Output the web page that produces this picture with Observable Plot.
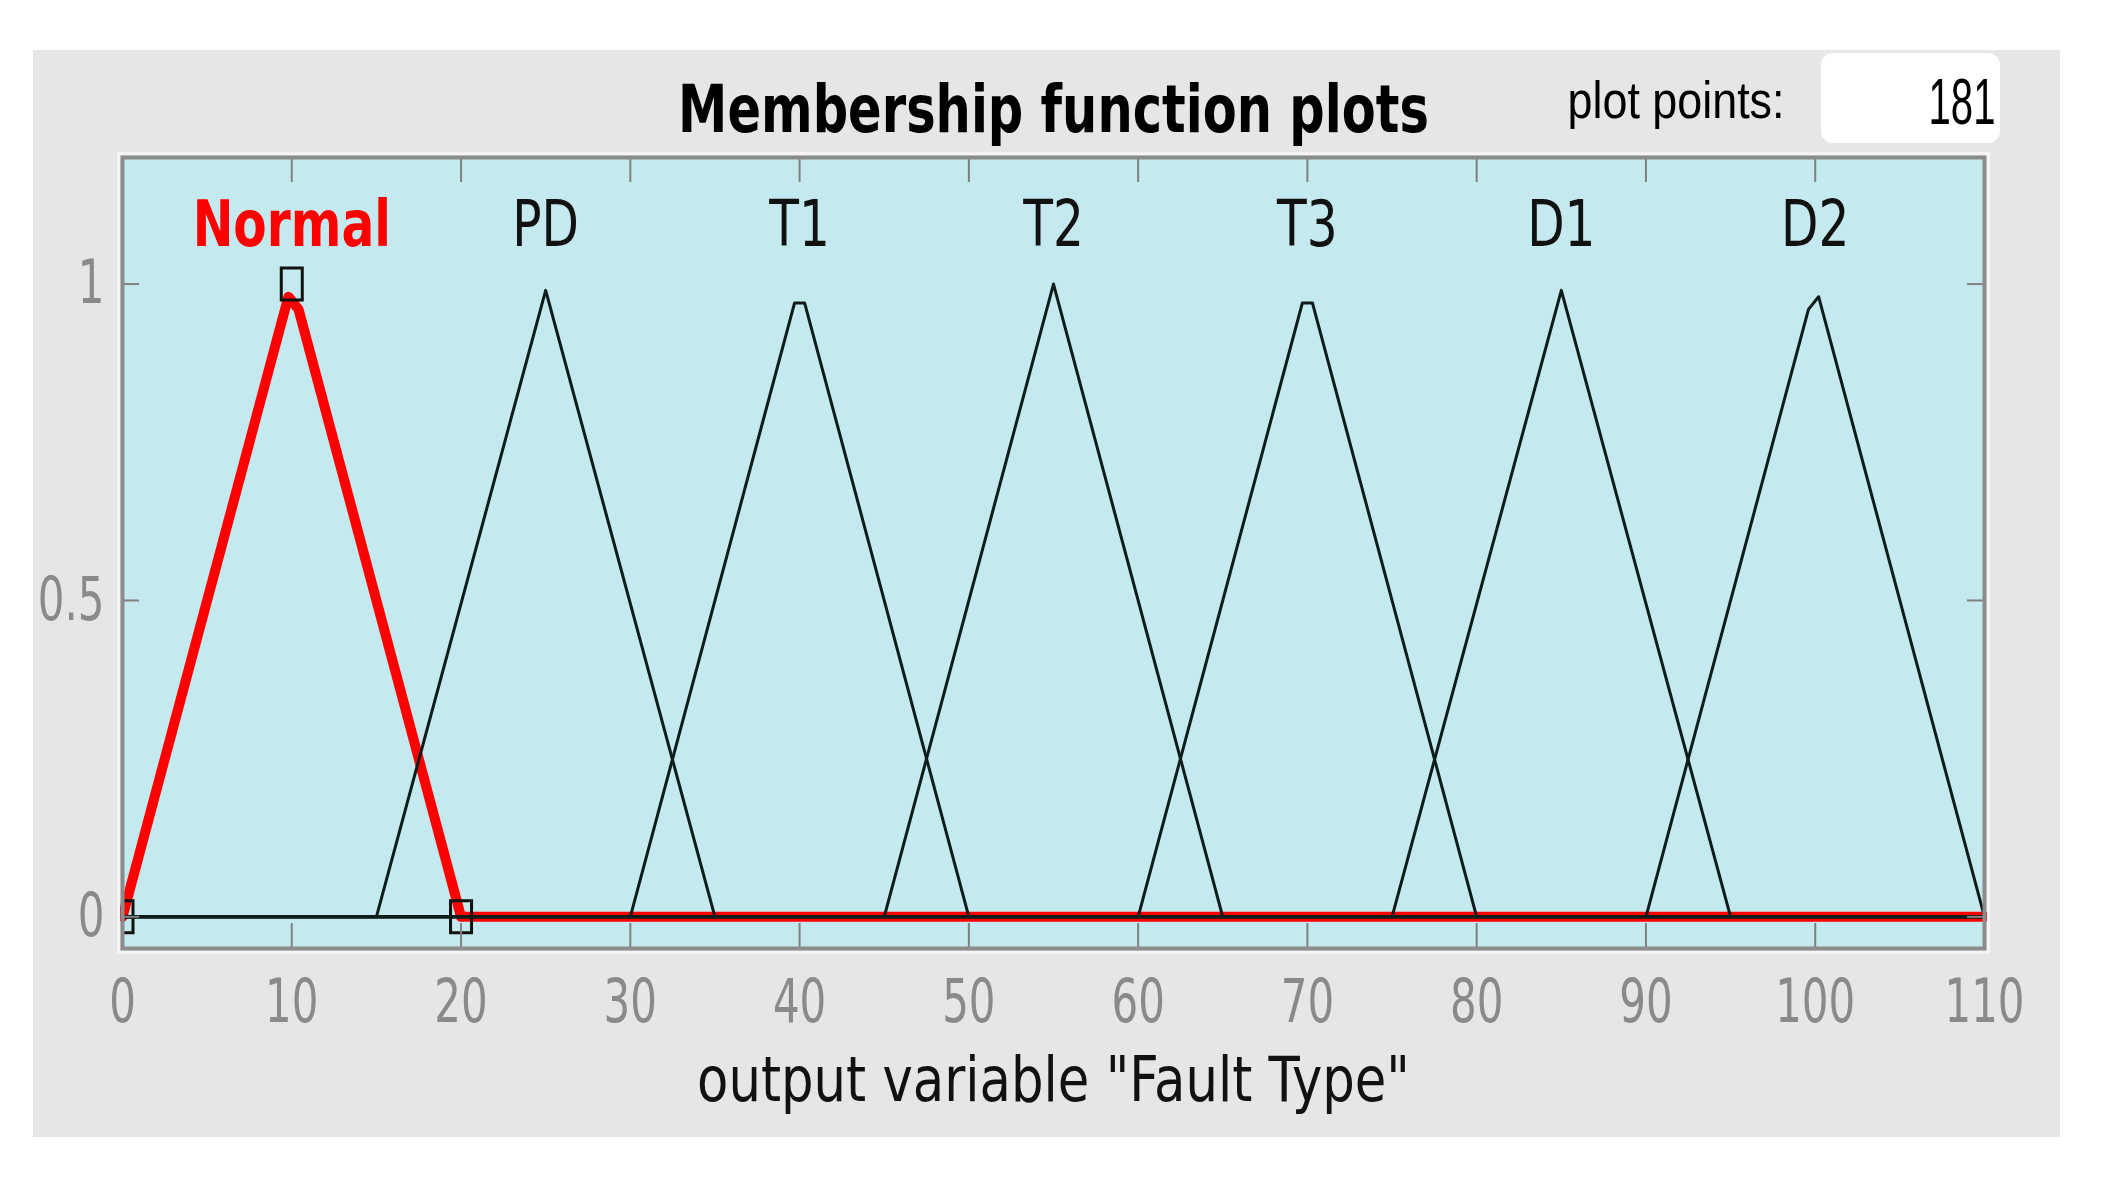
<!DOCTYPE html>
<html><head><meta charset="utf-8">
<script src="https://cdn.jsdelivr.net/npm/d3@7"></script>
<script src="https://cdn.jsdelivr.net/npm/@observablehq/plot@0.6"></script>
<style>
html,body{margin:0;padding:0;background:#fff;}
#wrap{position:relative;width:2103px;height:1181px;overflow:hidden;background:#fff;}
#panel{position:absolute;left:33px;top:50px;width:2027px;height:1087px;background:#e6e6e6;}
#box{position:absolute;left:1821px;top:53px;width:179px;height:90px;background:#fff;border-radius:12px;}
#chart{position:absolute;left:0;top:0;}
</style></head><body>
<div id="wrap"><div id="panel"></div><div id="box"></div><div id="chart"></div></div>
<script>
// ---- data ----
const mfNames = ["Normal", "PD", "T1", "T2", "T3", "D1", "D2"];
const mfCenters = [10, 25, 40, 55, 70, 85, 100];
const mfVertexX = [
  [0, 9.8, 10.4, 20, 110],
  [0, 15, 25, 35, 110],
  [0, 30, 39.7, 40.3, 50, 110],
  [0, 45, 55, 65, 110],
  [0, 60, 69.7, 70.3, 80, 110],
  [0, 75, 85, 95, 110],
  [0, 90, 99.6, 100.2, 110]
];
const mfVertexY = [
  [0, 0.98, 0.96, 0, 0],
  [0, 0, 0.99, 0, 0],
  [0, 0, 0.97, 0.97, 0, 0],
  [0, 0, 1, 0, 0],
  [0, 0, 0.97, 0.97, 0, 0],
  [0, 0, 0.99, 0, 0],
  [0, 0, 0.96, 0.98, 0]
];
const selectedIndex = 0;               // "Normal" is the selected MF
const selectedParams = [0, 10, 20];    // its trimf parameters
const selectedParamY = [0, 1, 0];
const xTicks = [0, 10, 20, 30, 40, 50, 60, 70, 80, 90, 100, 110];
const xTickLabels = ["0", "10", "20", "30", "40", "50", "60", "70", "80", "90", "100", "110"];
const yTicks = [0, 0.5, 1];
const yTickLabels = ["0", "0.5", "1"];
const xDomain = [0, 110];
const yDomain = [-0.05, 1.2];
const titleText = "Membership function plots";
const xLabelText = 'output variable "Fault Type"';
const plotPointsLabel = "plot points:";
const plotPoints = 181;

// ---- tables for the library ----
const rows = mfNames.flatMap((name, i) =>
  mfVertexX[i].map((x, j) => ({name, x, y: mfVertexY[i][j]})));
const selRows = rows.filter(d => d.name === mfNames[selectedIndex]);
const otherRows = rows.filter(d => d.name !== mfNames[selectedIndex]);
const labelRows = mfNames.map((name, i) => ({name, x: mfCenters[i]}));
const markerRows = selectedParams.map((x, i) => ({x, y: selectedParamY[i]}));

// ---- layout ----
const W = 2103, H = 1181;
const mL = 122, mR = 119, mT = 157, mB = 233;
const fw = W - mL - mR, fh = H - mT - mB;
const FONT = "DejaVu Sans, Verdana, sans-serif";
const SANS = "Liberation Sans, Arial, sans-serif";
const tickGray = "#8a8a8a";
const lineBlack = "#0e1c1c";

const rectSymbol = {draw(ctx) { ctx.rect(-10.5, -16, 21, 32); }};

const chart = Plot.plot({
  width: W, height: H,
  marginLeft: mL, marginRight: mR, marginTop: mT, marginBottom: mB,
  x: {domain: xDomain},
  y: {domain: yDomain},
  style: {fontFamily: FONT, background: "transparent", overflow: "visible"},
  marks: [
    Plot.frame({fill: "#c4e9ee", stroke: "none"}),
    Plot.line(selRows, {x: "x", y: "y", stroke: "#ff0000", strokeWidth: 10, strokeLinejoin: "round"}),
    Plot.line(otherRows, {x: "x", y: "y", z: "name", stroke: lineBlack, strokeWidth: 3, strokeLinejoin: "round"}),
    Plot.dot(markerRows, {x: "x", y: "y", symbol: rectSymbol, r: 10, stroke: "#111", strokeWidth: 3, fill: "none", clip: true}),
    Plot.tickX(xTicks, {x: d => d, insetTop: fh - 25, stroke: "#808080", strokeWidth: 2}),
    Plot.tickX(xTicks, {x: d => d, insetBottom: fh - 25, stroke: "#808080", strokeWidth: 2}),
    Plot.tickY(yTicks, {y: d => d, insetRight: fw - 17, stroke: "#808080", strokeWidth: 2}),
    Plot.tickY(yTicks, {y: d => d, insetLeft: fw - 17, stroke: "#808080", strokeWidth: 2}),
    Plot.frame({inset: -4, stroke: "#f4f4f4", strokeWidth: 3}),
    Plot.frame({stroke: "#8c8c8c", strokeWidth: 4}),
    Plot.axisX(xTicks, {tickSize: 0, tickPadding: 31, fontSize: 60, fill: tickGray, label: null,
      tickFormat: d => xTickLabels[xTicks.indexOf(d)]}),
    Plot.axisY(yTicks, {tickSize: 0, tickPadding: 18, fontSize: 60, fill: tickGray, label: null,
      tickFormat: d => yTickLabels[yTicks.indexOf(d)]}),
    Plot.text(labelRows.filter(d => d.name !== mfNames[selectedIndex]), {x: "x", text: "name", frameAnchor: "top", lineAnchor: "bottom", dy: 88, fontSize: 64, fill: "#111"}),
    Plot.text(labelRows.filter(d => d.name === mfNames[selectedIndex]), {x: "x", text: "name", frameAnchor: "top", lineAnchor: "bottom", dy: 88, fontSize: 64, fontWeight: "bold", fill: "#ff0000"}),
    Plot.text([titleText], {frameAnchor: "top", lineAnchor: "bottom", dy: -26, fontSize: 66, fontWeight: "bold", fill: "#000"}),
    Plot.text([xLabelText], {frameAnchor: "bottom", lineAnchor: "bottom", dy: 152, fontSize: 62, fill: "#111"}),
    Plot.text([plotPointsLabel], {frameAnchor: "top-right", textAnchor: "end", lineAnchor: "bottom", dx: -200, dy: -40, fontFamily: SANS, fontSize: 52, fill: "#000"}),
    Plot.text([String(plotPoints)], {frameAnchor: "top-right", textAnchor: "end", lineAnchor: "bottom", dx: 11, dy: -34, fontFamily: SANS, fontSize: 65, fill: "#000"})
  ]
});
document.getElementById("chart").appendChild(chart);

// condense the text horizontally like the original screenshot (scale around each text's anchor)
const allText = Array.from(chart.querySelectorAll("text"));
const byContent = s => allText.filter(el => el.textContent === s);
function scaleEl(el, k) {
  const ax = parseFloat(el.getAttribute("x") || 0);
  const t = el.getAttribute("transform") || "";
  el.setAttribute("transform", `${t} translate(${ax},0) scale(${k.toFixed(4)},1) translate(${-ax},0)`.trim());
}
const squishEl = (el, k) => scaleEl(el, k);
const fitEl = (el, target) => scaleEl(el, target / el.getComputedTextLength());
chart.querySelectorAll('g[aria-label="x-axis tick label"] text, g[aria-label="y-axis tick label"] text')
  .forEach(el => squishEl(el, 0.70));
mfNames.forEach(n => byContent(n).forEach(el => squishEl(el, 0.76)));
byContent(titleText).forEach(el => fitEl(el, 751));
byContent(xLabelText).forEach(el => fitEl(el, 713));
byContent(plotPointsLabel).forEach(el => fitEl(el, 217));
byContent(String(plotPoints)).forEach(el => fitEl(el, 67));
</script>
</body></html>
